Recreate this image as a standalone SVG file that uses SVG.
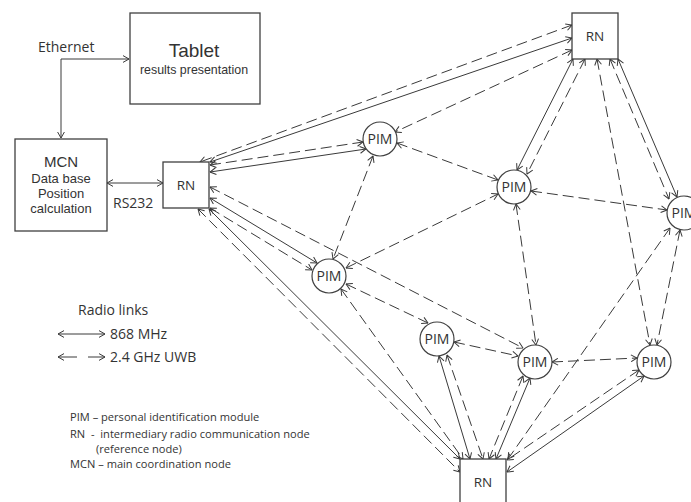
<svg xmlns="http://www.w3.org/2000/svg" width="691" height="502" viewBox="0 0 691 502">
<defs>
<marker id="a" viewBox="0 0 8 8" refX="7.5" refY="4" markerWidth="8" markerHeight="8" markerUnits="userSpaceOnUse" orient="auto-start-reverse">
<path d="M1.5,0.6 L7.5,4 L1.5,7.4" fill="none" stroke="#3a3a3a" stroke-width="1"/>
</marker>
<style>
.bx{fill:#fff;stroke:#404040;stroke-width:1.3}
.c{fill:#fff;stroke:#404040;stroke-width:1.2}
.ln{fill:none;stroke:#3a3a3a;stroke-width:1;marker-start:url(#a);marker-end:url(#a)}
.d{stroke-dasharray:11,5}
.t{font-family:"Open Sans","Liberation Sans",sans-serif;fill:#333}
.ar{font-family:"Liberation Sans",Arial,sans-serif;fill:#333;text-anchor:middle}
.pim{font-family:"Open Sans","Liberation Sans",sans-serif;fill:#333;font-size:14px;text-anchor:middle}
.rn{font-family:"Open Sans","Liberation Sans",sans-serif;fill:#333;font-size:13.5px;text-anchor:middle}
</style>
</defs>
<rect width="691" height="502" fill="#fff"/>

<g id="connectors">
<path class="ln" d="M61,138 V59 H129"/>
<path class="ln" d="M107,183 H163"/>
<line class="ln d" x1="572" y1="25" x2="200" y2="162"/>
<line class="ln" x1="572" y1="38" x2="210" y2="162"/>
<line class="ln d" x1="572" y1="50" x2="395" y2="132"/>
<line class="ln d" x1="210" y1="165" x2="363" y2="142"/>
<line class="ln" x1="210" y1="172" x2="366" y2="149"/>
<line class="ln" x1="210" y1="198" x2="317" y2="263"/>
<line class="ln d" x1="210" y1="208" x2="312" y2="270"/>
<line class="ln d" x1="210" y1="187" x2="523" y2="348"/>
<line class="ln d" x1="198" y1="209" x2="460" y2="472"/>
<line class="ln" x1="209" y1="209" x2="460" y2="459"/>
<line class="ln d" x1="341" y1="289" x2="463" y2="459"/>
<line class="ln d" x1="346" y1="284" x2="428" y2="323"/>
<line class="ln d" x1="373" y1="156" x2="333" y2="259"/>
<line class="ln d" x1="397" y1="143" x2="498" y2="180"/>
<line class="ln d" x1="346" y1="268" x2="498" y2="194"/>
<line class="ln" x1="573" y1="59" x2="517" y2="170"/>
<line class="ln d" x1="585" y1="59" x2="527" y2="174"/>
<line class="ln d" x1="597" y1="59" x2="650" y2="345"/>
<line class="ln d" x1="610" y1="59" x2="669" y2="199"/>
<line class="ln" x1="618" y1="59" x2="677" y2="197"/>
<line class="ln d" x1="531" y1="191" x2="667" y2="210"/>
<line class="ln d" x1="516" y1="204" x2="536" y2="345"/>
<line class="ln d" x1="680" y1="230" x2="657" y2="345"/>
<line class="ln d" x1="670" y1="228" x2="508" y2="459"/>
<line class="ln d" x1="454" y1="342" x2="518" y2="356"/>
<line class="ln d" x1="552" y1="362" x2="637" y2="358"/>
<line class="ln" x1="439" y1="356" x2="470" y2="459"/>
<line class="ln d" x1="447" y1="355" x2="483" y2="459"/>
<line class="ln d" x1="523" y1="376" x2="489" y2="459"/>
<line class="ln" x1="530" y1="378" x2="496" y2="459"/>
<line class="ln d" x1="639" y1="370" x2="507" y2="460"/>
<line class="ln" x1="644" y1="376" x2="507" y2="472"/>
</g>

<g id="tablet">
<rect class="bx" x="130" y="13" width="130" height="91"/>
<text class="ar" x="194" y="57" font-size="19">Tablet</text>
<text class="ar" x="194" y="74" font-size="12.4">results presentation</text>
</g>

<g id="mcn">
<rect class="bx" x="15" y="139" width="92" height="92"/>
<text class="ar" x="61" y="167" font-size="15">MCN</text>
<text class="ar" x="61" y="183" font-size="13">Data base</text>
<text class="ar" x="61" y="198" font-size="13">Position</text>
<text class="ar" x="61" y="213" font-size="13">calculation</text>
</g>

<g id="rn-left">
<rect class="bx" x="163" y="162" width="46" height="46"/>
<text class="rn" x="186" y="190">RN</text>
</g>
<g id="rn-top">
<rect class="bx" x="572" y="13" width="46" height="46"/>
<text class="rn" x="595" y="41">RN</text>
</g>
<g id="rn-bottom">
<rect class="bx" x="460" y="459" width="46" height="50"/>
<text class="rn" x="483" y="487">RN</text>
</g>

<g id="pim1"><circle class="c" cx="380" cy="139" r="17"/><text class="pim" x="380" y="144">PIM</text></g>
<g id="pim2"><circle class="c" cx="514" cy="187" r="17"/><text class="pim" x="514" y="192">PIM</text></g>
<g id="pim3"><circle class="c" cx="684" cy="213" r="17"/><text class="pim" x="684" y="218">PIM</text></g>
<g id="pim4"><circle class="c" cx="329" cy="276" r="17"/><text class="pim" x="329" y="281">PIM</text></g>
<g id="pim5"><circle class="c" cx="437" cy="339" r="17"/><text class="pim" x="437" y="344">PIM</text></g>
<g id="pim6"><circle class="c" cx="535" cy="362" r="17"/><text class="pim" x="535" y="367">PIM</text></g>
<g id="pim7"><circle class="c" cx="654" cy="362" r="17"/><text class="pim" x="654" y="367">PIM</text></g>

<g id="labels">
<text class="t" x="38" y="52" font-size="14">Ethernet</text>
<text class="t" x="113" y="208" font-size="14">RS232</text>
</g>

<g id="legend">
<text class="t" x="78" y="315" font-size="14">Radio links</text>
<line class="ln" x1="58" y1="334" x2="105" y2="334"/>
<text class="t" x="110" y="339" font-size="14">868 MHz</text>
<line style="fill:none;stroke:#3a3a3a;stroke-width:1;marker-start:url(#a)" x1="58" y1="357" x2="77" y2="357"/>
<line style="fill:none;stroke:#3a3a3a;stroke-width:1;marker-end:url(#a)" x1="88" y1="357" x2="105" y2="357"/>
<text class="t" x="110" y="362" font-size="14">2.4 GHz UWB</text>
<text class="t" x="70" y="421" font-size="11.1">PIM – personal identification module</text>
<text class="t" x="70" y="438" font-size="11.1" xml:space="preserve">RN  -  intermediary radio communication node</text>
<text class="t" x="96" y="453" font-size="11.1">(reference node)</text>
<text class="t" x="70" y="468" font-size="11.1">MCN – main coordination node</text>
</g>
</svg>
